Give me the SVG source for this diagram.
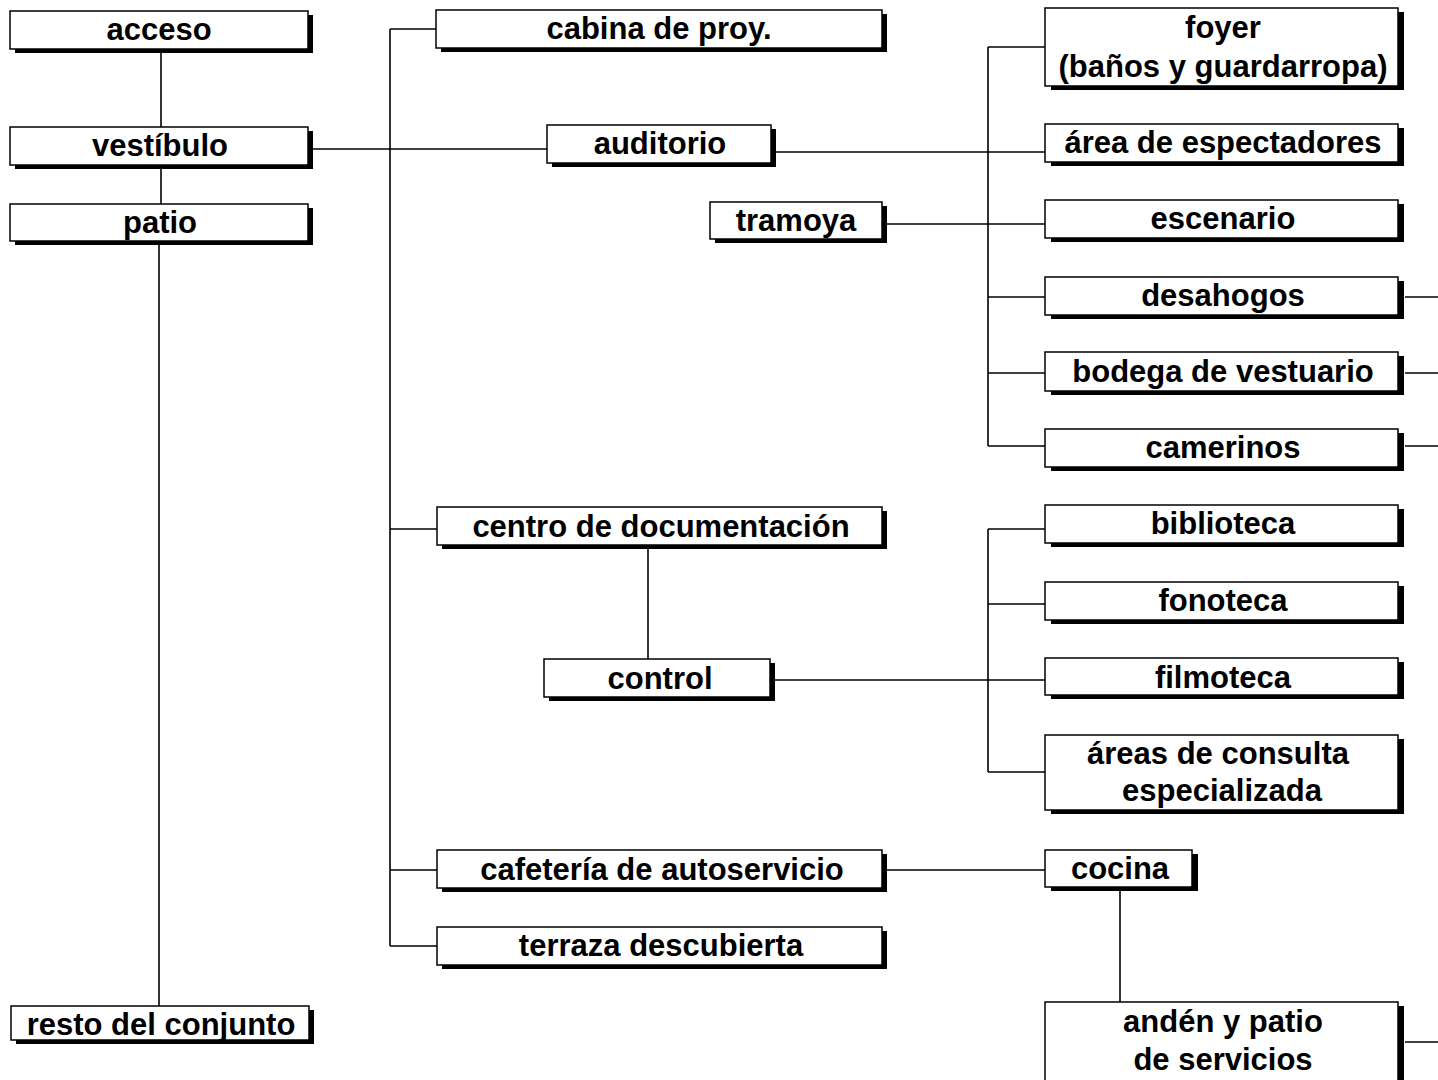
<svg xmlns="http://www.w3.org/2000/svg" width="1438" height="1080" viewBox="0 0 1438 1080">
<style>
.sh{fill:#000}
.bx{fill:#fff;stroke:#000;stroke-width:1.5}
.t{font-family:"Liberation Sans",Arial,sans-serif;font-weight:bold;font-size:31px;fill:#000;text-anchor:middle}
.c line{stroke:#000;stroke-width:1.6}
</style>
<rect width="1438" height="1080" fill="#fff"/>
<g class="c" id="connectors">
<line x1="161" y1="52" x2="161" y2="127"/>
<line x1="161" y1="168" x2="161" y2="204"/>
<line x1="159" y1="244" x2="159" y2="1006"/>
<line x1="313" y1="149" x2="547" y2="149"/>
<line x1="390" y1="29" x2="390" y2="946"/>
<line x1="390" y1="29" x2="436" y2="29"/>
<line x1="390" y1="529" x2="437" y2="529"/>
<line x1="390" y1="870" x2="437" y2="870"/>
<line x1="390" y1="946" x2="437" y2="946"/>
<line x1="775" y1="152" x2="1045" y2="152"/>
<line x1="887" y1="224" x2="1045" y2="224"/>
<line x1="988" y1="47" x2="988" y2="446"/>
<line x1="988" y1="47" x2="1045" y2="47"/>
<line x1="988" y1="297" x2="1045" y2="297"/>
<line x1="988" y1="373" x2="1045" y2="373"/>
<line x1="988" y1="446" x2="1045" y2="446"/>
<line x1="1405" y1="297" x2="1438" y2="297"/>
<line x1="1405" y1="373" x2="1438" y2="373"/>
<line x1="1405" y1="446" x2="1438" y2="446"/>
<line x1="1405" y1="1042" x2="1438" y2="1042"/>
<line x1="648" y1="549" x2="648" y2="659"/>
<line x1="775" y1="680" x2="1045" y2="680"/>
<line x1="988" y1="529" x2="988" y2="772"/>
<line x1="988" y1="529" x2="1045" y2="529"/>
<line x1="988" y1="604" x2="1045" y2="604"/>
<line x1="988" y1="772" x2="1045" y2="772"/>
<line x1="887" y1="870" x2="1045" y2="870"/>
<line x1="1120" y1="891" x2="1120" y2="1002"/>
</g>
<g id="acceso"><rect class="sh" x="15" y="15" width="298" height="38"/><rect class="bx" x="10" y="11" width="298" height="38"/><text class="t" x="159" y="40">acceso</text></g>
<g id="vestibulo"><rect class="sh" x="15" y="131" width="298" height="38"/><rect class="bx" x="10" y="127" width="298" height="38"/><text class="t" x="160" y="156">vestíbulo</text></g>
<g id="patio"><rect class="sh" x="15" y="208" width="298" height="37"/><rect class="bx" x="10" y="204" width="298" height="37"/><text class="t" x="160" y="233">patio</text></g>
<g id="resto"><rect class="sh" x="16" y="1010" width="298" height="34"/><rect class="bx" x="11" y="1006" width="298" height="34"/><text class="t" x="161" y="1035">resto del conjunto</text></g>
<g id="cabina"><rect class="sh" x="441" y="14" width="446" height="38"/><rect class="bx" x="436" y="10" width="446" height="38"/><text class="t" x="659" y="39">cabina de proy.</text></g>
<g id="auditorio"><rect class="sh" x="552" y="129" width="224" height="38"/><rect class="bx" x="547" y="125" width="224" height="38"/><text class="t" x="660" y="154">auditorio</text></g>
<g id="tramoya"><rect class="sh" x="715" y="206" width="172" height="37"/><rect class="bx" x="710" y="202" width="172" height="37"/><text class="t" x="796" y="231">tramoya</text></g>
<g id="centro"><rect class="sh" x="442" y="511" width="445" height="38"/><rect class="bx" x="437" y="507" width="445" height="38"/><text class="t" x="661" y="537">centro de documentación</text></g>
<g id="control"><rect class="sh" x="549" y="663" width="226" height="38"/><rect class="bx" x="544" y="659" width="226" height="38"/><text class="t" x="660" y="689">control</text></g>
<g id="cafeteria"><rect class="sh" x="442" y="854" width="445" height="38"/><rect class="bx" x="437" y="850" width="445" height="38"/><text class="t" x="662" y="880">cafetería de autoservicio</text></g>
<g id="terraza"><rect class="sh" x="442" y="931" width="445" height="38"/><rect class="bx" x="437" y="927" width="445" height="38"/><text class="t" x="661" y="956">terraza descubierta</text></g>
<g id="foyer"><rect class="sh" x="1051" y="12" width="353" height="78"/><rect class="bx" x="1045" y="8" width="353" height="78"/><text class="t" x="1223" y="38">foyer</text><text class="t" x="1223" y="77">(baños y guardarropa)</text></g>
<g id="area-espectadores"><rect class="sh" x="1051" y="128" width="353" height="38"/><rect class="bx" x="1045" y="124" width="353" height="38"/><text class="t" x="1223" y="153">área de espectadores</text></g>
<g id="escenario"><rect class="sh" x="1051" y="204" width="353" height="38"/><rect class="bx" x="1045" y="200" width="353" height="38"/><text class="t" x="1223" y="229">escenario</text></g>
<g id="desahogos"><rect class="sh" x="1051" y="281" width="353" height="38"/><rect class="bx" x="1045" y="277" width="353" height="38"/><text class="t" x="1223" y="306">desahogos</text></g>
<g id="bodega"><rect class="sh" x="1051" y="356" width="353" height="39"/><rect class="bx" x="1045" y="352" width="353" height="39"/><text class="t" x="1223" y="382">bodega de vestuario</text></g>
<g id="camerinos"><rect class="sh" x="1051" y="433" width="353" height="38"/><rect class="bx" x="1045" y="429" width="353" height="38"/><text class="t" x="1223" y="458">camerinos</text></g>
<g id="biblioteca"><rect class="sh" x="1051" y="509" width="353" height="38"/><rect class="bx" x="1045" y="505" width="353" height="38"/><text class="t" x="1223" y="534">biblioteca</text></g>
<g id="fonoteca"><rect class="sh" x="1051" y="586" width="353" height="38"/><rect class="bx" x="1045" y="582" width="353" height="38"/><text class="t" x="1223" y="611">fonoteca</text></g>
<g id="filmoteca"><rect class="sh" x="1051" y="662" width="353" height="37"/><rect class="bx" x="1045" y="658" width="353" height="37"/><text class="t" x="1223" y="688">filmoteca</text></g>
<g id="areas-consulta"><rect class="sh" x="1051" y="739" width="353" height="75"/><rect class="bx" x="1045" y="735" width="353" height="75"/><text class="t" x="1218" y="764">áreas de consulta</text><text class="t" x="1222" y="801">especializada</text></g>
<g id="cocina"><rect class="sh" x="1051" y="854" width="147" height="37"/><rect class="bx" x="1045" y="850" width="147" height="37"/><text class="t" x="1120" y="879">cocina</text></g>
<g id="anden"><rect class="sh" x="1051" y="1006" width="353" height="80"/><rect class="bx" x="1045" y="1002" width="353" height="80"/><text class="t" x="1223" y="1032">andén y patio</text><text class="t" x="1223" y="1070">de servicios</text></g>
</svg>
